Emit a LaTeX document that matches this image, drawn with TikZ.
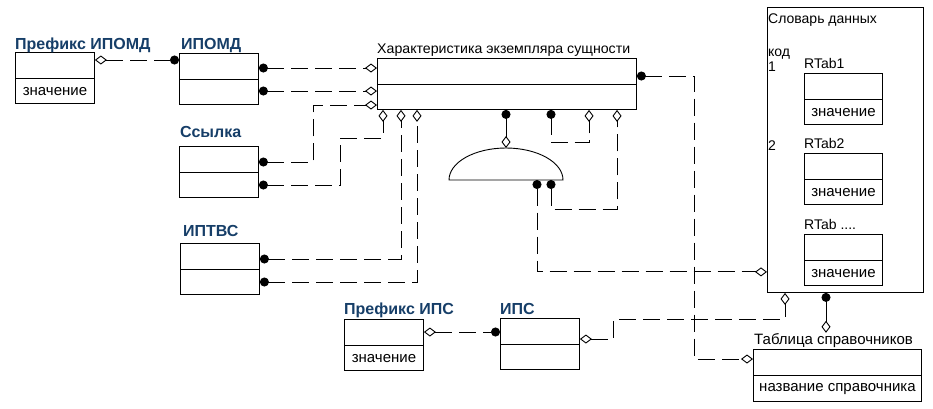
\documentclass[tikz,border=0pt]{standalone}
\usepackage{fontspec}
\setmainfont{Liberation Sans}
\usetikzlibrary{arrows.meta}
\definecolor{titleblue}{RGB}{22,62,104}

\begin{document}
\begin{tikzpicture}[x=1pt,y=-1pt,
 box/.style={draw,line width=0.9pt,inner sep=0pt,anchor=north west,minimum height=51pt},
 ttl/.style={anchor=base west,inner sep=0pt,text=titleblue,font=\fontsize{16}{18}\selectfont\bfseries},
 lbl/.style={anchor=base west,inner sep=0pt,font=\fontsize{14}{16}\selectfont},
 val/.style={inner sep=0pt,font=\fontsize{15}{17}\selectfont},
 con/.style={line width=0.9pt,dash pattern=on 17pt off 7pt},
 sol/.style={line width=0.9pt},
 dm/.tip={Diamond[open,length=12pt,width=9pt]},
 dt/.tip={Circle[length=9pt]}]
 \useasboundingbox (0,0) rectangle (933,408);
 % entities
 \node[box,minimum width=79pt] (pim) at (15,52) {};
 \node[ttl] (pimt) at (15,49) {Префикс ИПОМД};
 \node[val] (pimv) at ([yshift=12.5pt]pim.south) {значение};
 \node[box,minimum width=79pt] (ipomd) at (179,53) {};
 \node[ttl] (ipomdt) at (181,49) {ИПОМД};
 \node[box,minimum width=79pt] (ref) at (179,146) {};
 \node[ttl] (reft) at (180,137) {Ссылка};
 \node[box,minimum width=79pt] (iptvs) at (180,243) {};
 \node[ttl] (iptvst) at (183,236) {ИПТВС};
 \node[box,minimum width=79pt] (pips) at (344,319) {};
 \node[ttl] (pipst) at (344,314) {Префикс ИПС};
 \node[val] (pipsv) at ([yshift=12.5pt]pips.south) {значение};
 \node[box,minimum width=79pt] (ips) at (500,318) {};
 \node[ttl] (ipst) at (500,314) {ИПС};
 \node[box,minimum width=259pt] (main) at (377,58) {};
 \node[lbl] (maint) at (377,53) {\resizebox{253pt}{\height}{Характеристика экземпляра сущности}};
 % dictionary
 \node[box,minimum width=156pt,minimum height=285pt] (dict) at (767,7) {};
 \node[lbl] (dictt) at (768,23) {Словарь данных};
 \node[lbl] (code) at (768,56) {код};
 \node[lbl] (code1) at (768,71) {1};
 \node[lbl] (code2) at (768,150) {2};
 \foreach \n/\y/\lab in {rt1/73/{RTab1},rt2/153/{RTab2},rt3/234/{RTab ....}}{
  \node[box,minimum width=78pt] (\n) at (804,\y) {};
  \node[lbl] (\n t) at (804,\y-5) {\lab};
  \node[val] (\n v) at ([yshift=12.5pt]\n.south) {значение};
 }
 \node[box,minimum width=168pt,minimum height=52pt] (tab) at (753,349) {};
 \node[lbl,font=\fontsize{15}{17}\selectfont] (tabt) at (754,344) {Таблица справочников};
 \node[val] (tabv) at ([yshift=13pt]tab.south) {название справочника};
 \foreach \n in {pim,ipomd,ref,iptvs,pips,ips,main,rt1,rt2,rt3,tab}
  \draw[sol] ([yshift=-26pt]\n.north west) -- ([yshift=-26pt]\n.north east);
 % gate
 \coordinate (gate) at (506,180);
 \draw[sol] (449,180) arc[start angle=180,end angle=360,x radius=57,y radius=32] -- cycle;
 % connectors
 \draw[con,dm-dt] ([yshift=-8pt]pim.north east) -- ([yshift=-8pt]pim.north east -| ipomd.west);
 \draw[con,dt-dm] ([yshift=-15pt]ipomd.north east) -- ([yshift=-15pt]ipomd.north east -| main.west);
 \draw[con,dt-dm] ([yshift=-38pt]ipomd.north east) -- ([yshift=-38pt]ipomd.north east -| main.west);
 \draw[con,dt-dm] ([yshift=-16pt]ref.north east) -- ++(55,0) |- ([yshift=-47pt]main.north west);
 \draw[con,dt-dm] ([yshift=-39pt]ref.north east) -| (340,138) -| ([xshift=6pt]main.south west);
 \draw[con,dt-dm] ([yshift=-16pt]iptvs.north east) -| ([xshift=24pt]main.south west);
 \draw[con,dt-dm] ([yshift=-39pt]iptvs.north east) -| ([xshift=40pt]main.south west);
 \draw[sol,dt-dm] ([xshift=129pt]main.south west) -- ([yshift=32pt]gate);
 \draw[con,dt-dm] ([xshift=174pt]main.south west) -- ++(0,33) -| ([xshift=212pt]main.south west);
 \draw[con,dt-dm] ([xshift=45pt]gate) -- ++(0,29) -| ([xshift=240pt]main.south west);
 \draw[con,dt-dm] ([xshift=31pt]gate) |- ([yshift=21pt]dict.south west);
 \draw[con,dt-dm] ([yshift=-18pt]main.north east) -- ++(58,0) |- ([yshift=-10pt]tab.north west);
 \draw[con,dm-dm] ([yshift=-21pt]ips.north east) -- ++(34,0) -- ++(0,-20) -| ([xshift=18pt]dict.south west);
 \draw[sol,dt-dm] ([xshift=59pt]dict.south west) -- ([xshift=59pt]dict.south west |- tabt.north);
 \draw[con,dm-dt] ([yshift=-13pt]pips.north east) -- ([yshift=-13pt]pips.north east -| ips.west);
\end{tikzpicture}
\end{document}
